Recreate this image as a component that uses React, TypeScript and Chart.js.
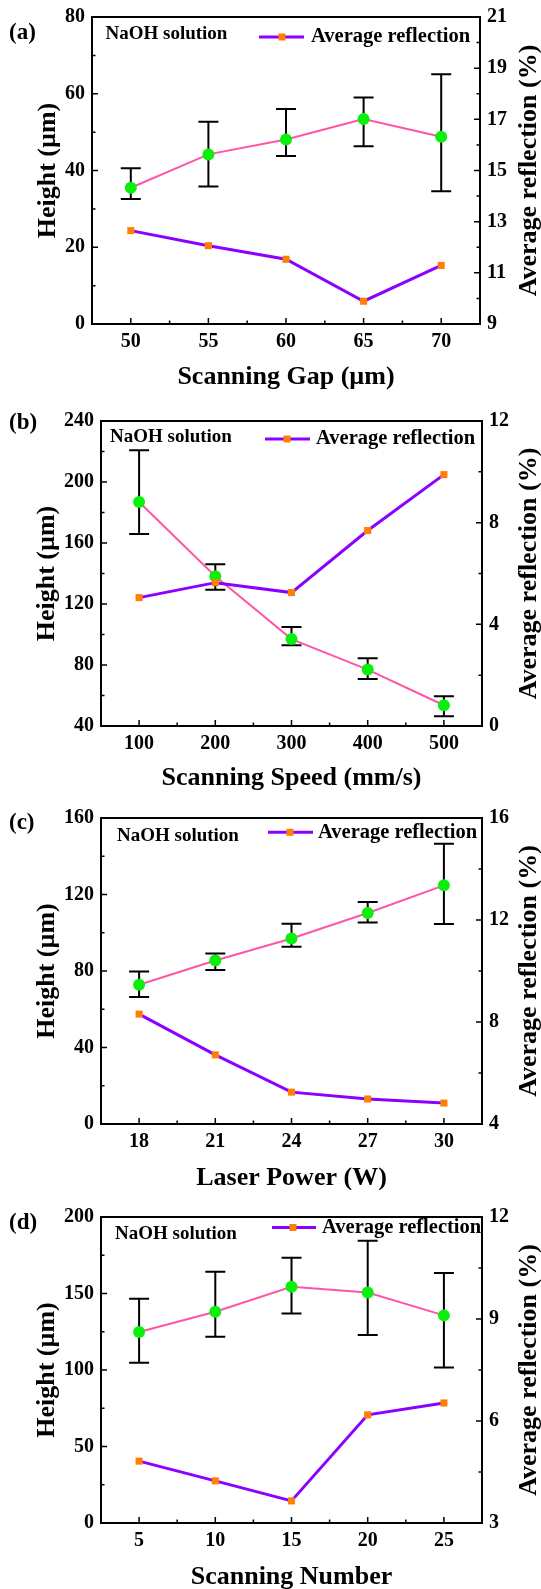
import React, { useEffect, useRef } from 'react';
import { Chart, registerables } from 'chart.js';
Chart.register(...registerables);

const FONT = "'Liberation Serif', 'Times New Roman', Times, serif";
const PINK = 'rgb(255, 85, 165)';
const GREEN = 'rgb(10, 240, 10)';
const PURPLE = 'rgb(140, 0, 255)';
const ORANGE = 'rgb(255, 128, 0)';

// (a) Scanning gap
const gapX = [50, 55, 60, 65, 70];
const gapHeight = [35.5, 44.2, 48.1, 53.4, 48.8];
const gapHeightHigh = [40.6, 52.7, 56.0, 59.0, 65.1];
const gapHeightLow = [32.6, 35.8, 43.8, 46.3, 34.6];
const gapReflection = [12.65, 12.06, 11.53, 9.89, 11.29];
const gapXTicks = [50, 55, 60, 65, 70];
const gapHeightTicks = [0, 20, 40, 60, 80];
const gapReflTicks = [9, 11, 13, 15, 17, 19, 21];

// (b) Scanning speed
const speedX = [100, 200, 300, 400, 500];
const speedHeight = [186.9, 138.2, 97.0, 77.0, 53.6];
const speedHeightHigh = [220.8, 146.0, 104.9, 84.4, 59.5];
const speedHeightLow = [165.9, 129.4, 92.9, 70.8, 46.4];
const speedReflection = [5.05, 5.64, 5.25, 7.69, 9.89];
const speedXTicks = [100, 200, 300, 400, 500];
const speedHeightTicks = [40, 80, 120, 160, 200, 240];
const speedReflTicks = [0, 4, 8, 12];

// (c) Laser power
const powerX = [18, 21, 24, 27, 30];
const powerHeight = [72.8, 85.5, 97.0, 110.3, 124.8];
const powerHeightHigh = [79.8, 89.2, 104.7, 116.1, 146.6];
const powerHeightLow = [66.4, 80.5, 92.7, 105.4, 104.6];
const powerReflection = [8.31, 6.71, 5.25, 4.98, 4.82];
const powerXTicks = [18, 21, 24, 27, 30];
const powerHeightTicks = [0, 40, 80, 120, 160];
const powerReflTicks = [4, 8, 12, 16];

// (d) Scanning number
const numberX = [5, 10, 15, 20, 25];
const numberHeight = [124.8, 138.1, 154.4, 150.7, 135.7];
const numberHeightHigh = [146.6, 164.2, 173.4, 184.5, 163.4];
const numberHeightLow = [104.8, 121.8, 137.0, 122.9, 101.7];
const numberReflection = [4.82, 4.24, 3.65, 6.18, 6.53];
const numberXTicks = [5, 10, 15, 20, 25];
const numberHeightTicks = [0, 50, 100, 150, 200];
const numberReflTicks = [3, 6, 9, 12];

const panels = [
  {
    label: '(a)', xTitle: 'Scanning Gap (µm)',
    x: gapX, h: gapHeight, hi: gapHeightHigh, lo: gapHeightLow, r: gapReflection,
    xTicks: gapXTicks, yTicks: gapHeightTicks, y1Ticks: gapReflTicks,
    xMin: 47.5, xMax: 72.5, xMinor: 2.5, yMinor: 10, y1Minor: 1,
    H: 390, top: 17, bottom: 324, left: 92, right: 480,
    yTitlePad: 35, xTitlePad: 0,
    naoh: [105.5, 34], leg: [259, 304, 282, 37, 311],
  },
  {
    label: '(b)', xTitle: 'Scanning Speed (mm/s)',
    x: speedX, h: speedHeight, hi: speedHeightHigh, lo: speedHeightLow, r: speedReflection,
    xTicks: speedXTicks, yTicks: speedHeightTicks, y1Ticks: speedReflTicks,
    xMin: 50, xMax: 550, xMinor: 50, yMinor: 20, y1Minor: 2,
    H: 400, top: 31, bottom: 336, left: 101, right: 482,
    yTitlePad: 34, xTitlePad: -1,
    naoh: [110, 46.7], leg: [265, 310, 287, 49, 316],
  },
  {
    label: '(c)', xTitle: 'Laser Power (W)',
    x: powerX, h: powerHeight, hi: powerHeightHigh, lo: powerHeightLow, r: powerReflection,
    xTicks: powerXTicks, yTicks: powerHeightTicks, y1Ticks: powerReflTicks,
    xMin: 16.5, xMax: 31.5, xMinor: 1.5, yMinor: 20, y1Minor: 2,
    H: 400, top: 28, bottom: 334, left: 101, right: 482,
    yTitlePad: 34, xTitlePad: -1,
    naoh: [117, 45.7], leg: [268, 313, 290, 42.3, 318],
  },
  {
    label: '(d)', xTitle: 'Scanning Number',
    x: numberX, h: numberHeight, hi: numberHeightHigh, lo: numberHeightLow, r: numberReflection,
    xTicks: numberXTicks, yTicks: numberHeightTicks, y1Ticks: numberReflTicks,
    xMin: 2.5, xMax: 27.5, xMinor: 2.5, yMinor: 25, y1Minor: 1.5,
    H: 399, top: 27, bottom: 333, left: 101, right: 482,
    yTitlePad: 34, xTitlePad: -1,
    naoh: [115, 43.7], leg: [272, 316, 293, 37.5, 322],
  },
];

const W = 541;

function makeDecor(p: any) {
  return {
    id: 'decor',
    beforeDatasetsDraw(chart: any) {
      const ctx = chart.ctx;
      const xs = chart.scales.x;
      const ys = chart.scales.y;
      ctx.save();
      ctx.strokeStyle = '#000';
      ctx.lineWidth = 2;
      p.x.forEach((xv: number, i: number) => {
        const px = xs.getPixelForValue(xv);
        const top = ys.getPixelForValue(p.hi[i]);
        const bot = ys.getPixelForValue(p.lo[i]);
        ctx.beginPath();
        ctx.moveTo(px, top);
        ctx.lineTo(px, bot);
        ctx.moveTo(px - 10, top);
        ctx.lineTo(px + 10, top);
        ctx.moveTo(px - 10, bot);
        ctx.lineTo(px + 10, bot);
        ctx.stroke();
      });
      ctx.restore();
    },
    afterDraw(chart: any) {
      const ctx = chart.ctx;
      const { left, right, top, bottom } = chart.chartArea;
      const xs = chart.scales.x;
      const ys = chart.scales.y;
      const y1 = chart.scales.y1;
      ctx.save();
      // frame
      ctx.strokeStyle = '#000';
      ctx.lineWidth = 2;
      ctx.strokeRect(left, top, right - left, bottom - top);
      // ticks
      ctx.lineWidth = 1.5;
      const major = 6, minor = 3.5;
      ctx.beginPath();
      for (let v = p.xMin; v <= p.xMax + 1e-9; v += p.xMinor) {
        const isMajor = p.xTicks.some((t: number) => Math.abs(t - v) < 1e-6);
        const onEdge = Math.abs(v - p.xMin) < 1e-6 || Math.abs(v - p.xMax) < 1e-6;
        if (onEdge) continue;
        const px = xs.getPixelForValue(v);
        ctx.moveTo(px, bottom);
        ctx.lineTo(px, bottom - (isMajor ? major : minor));
      }
      const yMin = p.yTicks[0], yMax = p.yTicks[p.yTicks.length - 1];
      for (let v = yMin + p.yMinor; v < yMax - 1e-9; v += p.yMinor) {
        const isMajor = p.yTicks.some((t: number) => Math.abs(t - v) < 1e-6);
        const py = ys.getPixelForValue(v);
        ctx.moveTo(left, py);
        ctx.lineTo(left + (isMajor ? major : minor), py);
      }
      const rMin = p.y1Ticks[0], rMax = p.y1Ticks[p.y1Ticks.length - 1];
      for (let v = rMin + p.y1Minor; v < rMax - 1e-9; v += p.y1Minor) {
        const isMajor = p.y1Ticks.some((t: number) => Math.abs(t - v) < 1e-6);
        const py = y1.getPixelForValue(v);
        ctx.moveTo(right, py);
        ctx.lineTo(right - (isMajor ? major : minor), py);
      }
      ctx.stroke();

      // right title (reads bottom to top)
      ctx.fillStyle = '#000';
      ctx.font = `bold 26px ${FONT}`;
      ctx.textAlign = 'center';
      ctx.textBaseline = 'middle';
      ctx.save();
      ctx.translate(529, (top + bottom) / 2);
      ctx.rotate(-Math.PI / 2);
      ctx.fillText('Average reflection (%)', 0, 0);
      ctx.restore();

      // panel label
      ctx.font = `bold 23px ${FONT}`;
      ctx.textAlign = 'left';
      ctx.fillText(p.label, 9, 33);

      // annotation
      ctx.font = `bold 19px ${FONT}`;
      ctx.fillText('NaOH solution', p.naoh[0], p.naoh[1]);

      // legend
      const [x1, x2, mx, ly, tx] = p.leg;
      ctx.strokeStyle = PURPLE;
      ctx.lineWidth = 3;
      ctx.beginPath();
      ctx.moveTo(x1, ly);
      ctx.lineTo(x2, ly);
      ctx.stroke();
      ctx.fillStyle = ORANGE;
      ctx.fillRect(mx - 3.5, ly - 3.5, 7, 7);
      ctx.fillStyle = '#000';
      ctx.font = `bold 20.5px ${FONT}`;
      ctx.fillText('Average reflection', tx, ly);
      ctx.restore();
    },
  };
}

function Panel({ p }: { p: any }) {
  const ref = useRef<HTMLCanvasElement>(null);
  useEffect(() => {
    if (!ref.current) return;
    const tickFont = { family: FONT, size: 20, weight: 'bold' as const, lineHeight: 1 };
    const titleFont = { family: FONT, size: 26, weight: 'bold' as const, lineHeight: 1 };
    const chart = new Chart(ref.current, {
      type: 'line',
      data: {
        datasets: [
          {
            label: 'Height',
            data: p.x.map((xv: number, i: number) => ({ x: xv, y: p.h[i] })),
            yAxisID: 'y',
            borderColor: PINK,
            borderWidth: 2,
            pointRadius: 6,
            pointBackgroundColor: GREEN,
            pointBorderWidth: 0,
            order: 2,
          },
          {
            label: 'Average reflection',
            data: p.x.map((xv: number, i: number) => ({ x: xv, y: p.r[i] })),
            yAxisID: 'y1',
            borderColor: PURPLE,
            borderWidth: 3,
            pointStyle: 'rect',
            pointRadius: 5,
            pointBackgroundColor: ORANGE,
            pointBorderWidth: 0,
            order: 1,
          },
        ],
      },
      options: {
        responsive: false,
        animation: false,
        devicePixelRatio: 1,
        layout: { padding: { top: p.top, left: 0, right: 0, bottom: 0 } },
        plugins: { legend: { display: false }, tooltip: { enabled: false } },
        scales: {
          x: {
            type: 'linear',
            min: p.xMin,
            max: p.xMax,
            grid: { display: false, drawTicks: false },
            border: { display: false },
            ticks: { font: tickFont, color: '#000', padding: 8, maxRotation: 0 },
            afterBuildTicks: (s: any) => { s.ticks = p.xTicks.map((v: number) => ({ value: v })); },
            afterFit: (s: any) => { s.height = p.H - p.bottom; },
            title: { display: true, text: p.xTitle, font: titleFont, color: '#000', padding: { top: 0, bottom: p.xTitlePad } },
          },
          y: {
            type: 'linear',
            position: 'left',
            min: p.yTicks[0],
            max: p.yTicks[p.yTicks.length - 1],
            grid: { display: false, drawTicks: false },
            border: { display: false },
            ticks: { font: tickFont, color: '#000', padding: 7 },
            afterBuildTicks: (s: any) => { s.ticks = p.yTicks.map((v: number) => ({ value: v })); },
            afterFit: (s: any) => { s.width = p.left; },
            title: { display: true, text: 'Height (µm)', font: titleFont, color: '#000', padding: { top: p.yTitlePad, bottom: 0 } },
          },
          y1: {
            type: 'linear',
            position: 'right',
            min: p.y1Ticks[0],
            max: p.y1Ticks[p.y1Ticks.length - 1],
            grid: { display: false, drawTicks: false },
            border: { display: false },
            ticks: { font: tickFont, color: '#000', padding: 7 },
            afterBuildTicks: (s: any) => { s.ticks = p.y1Ticks.map((v: number) => ({ value: v })); },
            afterFit: (s: any) => { s.width = W - p.right; },
          },
        },
      },
      plugins: [makeDecor(p)],
    });
    return () => chart.destroy();
  }, [p]);
  return (
    <div style={{ width: W, height: p.H, position: 'relative' }}>
      <canvas ref={ref} width={W} height={p.H} style={{ display: 'block', width: W, height: p.H }} />
    </div>
  );
}

export default function App() {
  return (
    <div style={{ position: 'absolute', left: 0, top: 0, width: W, background: '#fff' }}>
      {panels.map((p) => (
        <Panel key={p.label} p={p} />
      ))}
    </div>
  );
}
